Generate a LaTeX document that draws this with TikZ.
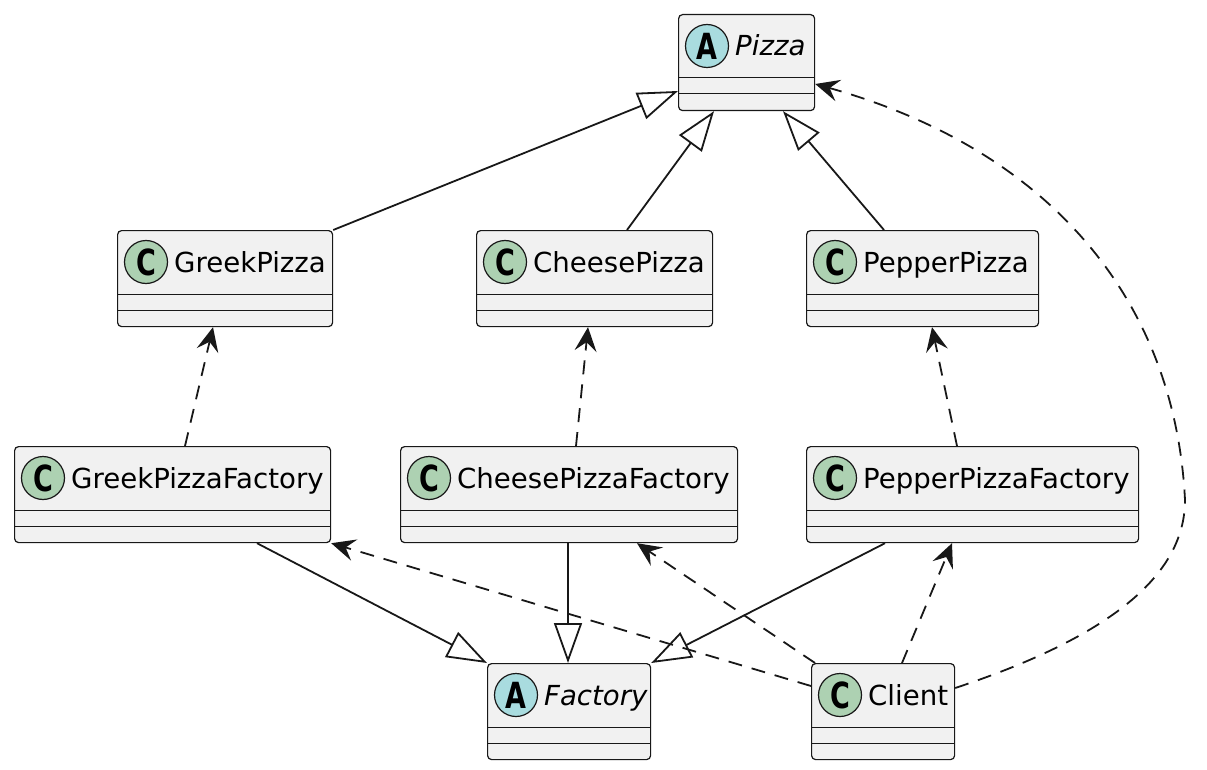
\documentclass[tikz,border=0pt]{standalone}
\usepackage{fontspec}
\setmainfont{DejaVu Sans}
\usetikzlibrary{arrows.meta,calc}
\definecolor{boxfill}{HTML}{F1F1F1}
\definecolor{boxline}{HTML}{181818}
\definecolor{cgreen}{HTML}{ADD1B2}
\definecolor{ablue}{HTML}{A9DCDF}
\tikzset{
 umlbox/.style={draw=boxline, fill=boxfill, line width=1.2pt, rounded corners=4pt, rectangle, inner sep=0pt, minimum height=96pt, anchor=north west},
 sepline/.style={draw=boxline, line width=1pt},
 badge/.style={circle, draw=boxline, line width=1.2pt, minimum size=43pt, inner sep=0pt},
 umltitle/.style={anchor=base west, inner sep=0pt, font=\fontsize{27.6}{32}\selectfont},
 inherit/.style={draw=boxline, line width=1.8pt, -{Triangle[open, length=40pt, width=28pt, line width=1.8pt]}},
 depend/.style={draw=boxline, line width=1.8pt, dash pattern=on 14pt off 10pt, -{Stealth[length=24pt, width=22pt, inset=9pt]}},
}
\newcommand{\umlclass}[7]{%
 \node[umlbox, minimum width={(#4-#2)*1pt}] (#1) at (#2,#3) {};
 \draw[sepline] ($(#1.north west)+(0,64)$) -- ($(#1.north east)+(0,64)$);
 \draw[sepline] ($(#1.north west)+(0,80)$) -- ($(#1.north east)+(0,80)$);
 \node[badge, fill=#5] (#1-badge) at ($(#1.north west)+(29,32)$) {\fontsize{36}{36}\selectfont\bfseries\scalebox{0.75}[1]{#6}};
 \node[umltitle] (#1-title) at ($(#1.north west)+(57,42)$) {#7};
}
\begin{document}
\begin{tikzpicture}[x=1pt,y=-1pt]
\useasboundingbox (0,0) rectangle (1207,770);
\umlclass{pizza}{678}{14}{814}{ablue}{A}{\itshape Pizza}
\umlclass{greek}{117}{230}{332}{cgreen}{C}{GreekPizza}
\umlclass{cheese}{476}{230}{712}{cgreen}{C}{CheesePizza}
\umlclass{pepper}{806}{230}{1038}{cgreen}{C}{PepperPizza}
\umlclass{greekf}{14}{446}{330}{cgreen}{C}{GreekPizzaFactory}
\umlclass{cheesef}{400}{446}{737}{cgreen}{C}{CheesePizzaFactory}
\umlclass{pepperf}{806}{446}{1138}{cgreen}{C}{PepperPizzaFactory}
\umlclass{factory}{487}{663}{650}{ablue}{A}{\itshape Factory}
\umlclass{client}{811}{663}{954}{cgreen}{C}{Client}
% inheritance
\draw[inherit] (greek.north east) -- ($(pizza.north west)+(0,77)$);
\draw[inherit] ($(cheese.north west)+(151,0)$) -- ($(pizza.south west)+(36,0)$);
\draw[inherit] ($(pepper.north west)+(78,0)$) -- ($(pizza.south west)+(105,0)$);
\draw[inherit] ($(greekf.south west)+(243,0)$) -- (factory.north west);
\draw[inherit] ($(cheesef.south west)+(168,0)$) -- ($(factory.north west)+(81,0)$);
\draw[inherit] ($(pepperf.south west)+(79,0)$) -- (factory.north east);
% dependencies
\draw[depend] ($(greekf.north west)+(171,0)$) -- ($(greek.south west)+(96,0)$);
\draw[depend] ($(cheesef.north west)+(176,0)$) -- ($(cheese.south west)+(112,0)$);
\draw[depend] ($(pepperf.north west)+(151,0)$) -- ($(pepper.south west)+(126,0)$);
\draw[depend] ($(client.north west)+(0,23)$) -- (greekf.south east);
\draw[depend] ($(client.north west)+(4,0)$) -- ($(cheesef.south west)+(237,0)$);
\draw[depend] ($(client.north west)+(91,0)$) -- ($(pepperf.south west)+(146,0)$);
\draw[depend] ($(client.north east)+(0,25)$) .. controls (1100,640) and (1185,580) .. (1185,500) .. controls (1175,300) and (1050,150) .. ($(pizza.north east)+(0,70)$);
\end{tikzpicture}
\end{document}
